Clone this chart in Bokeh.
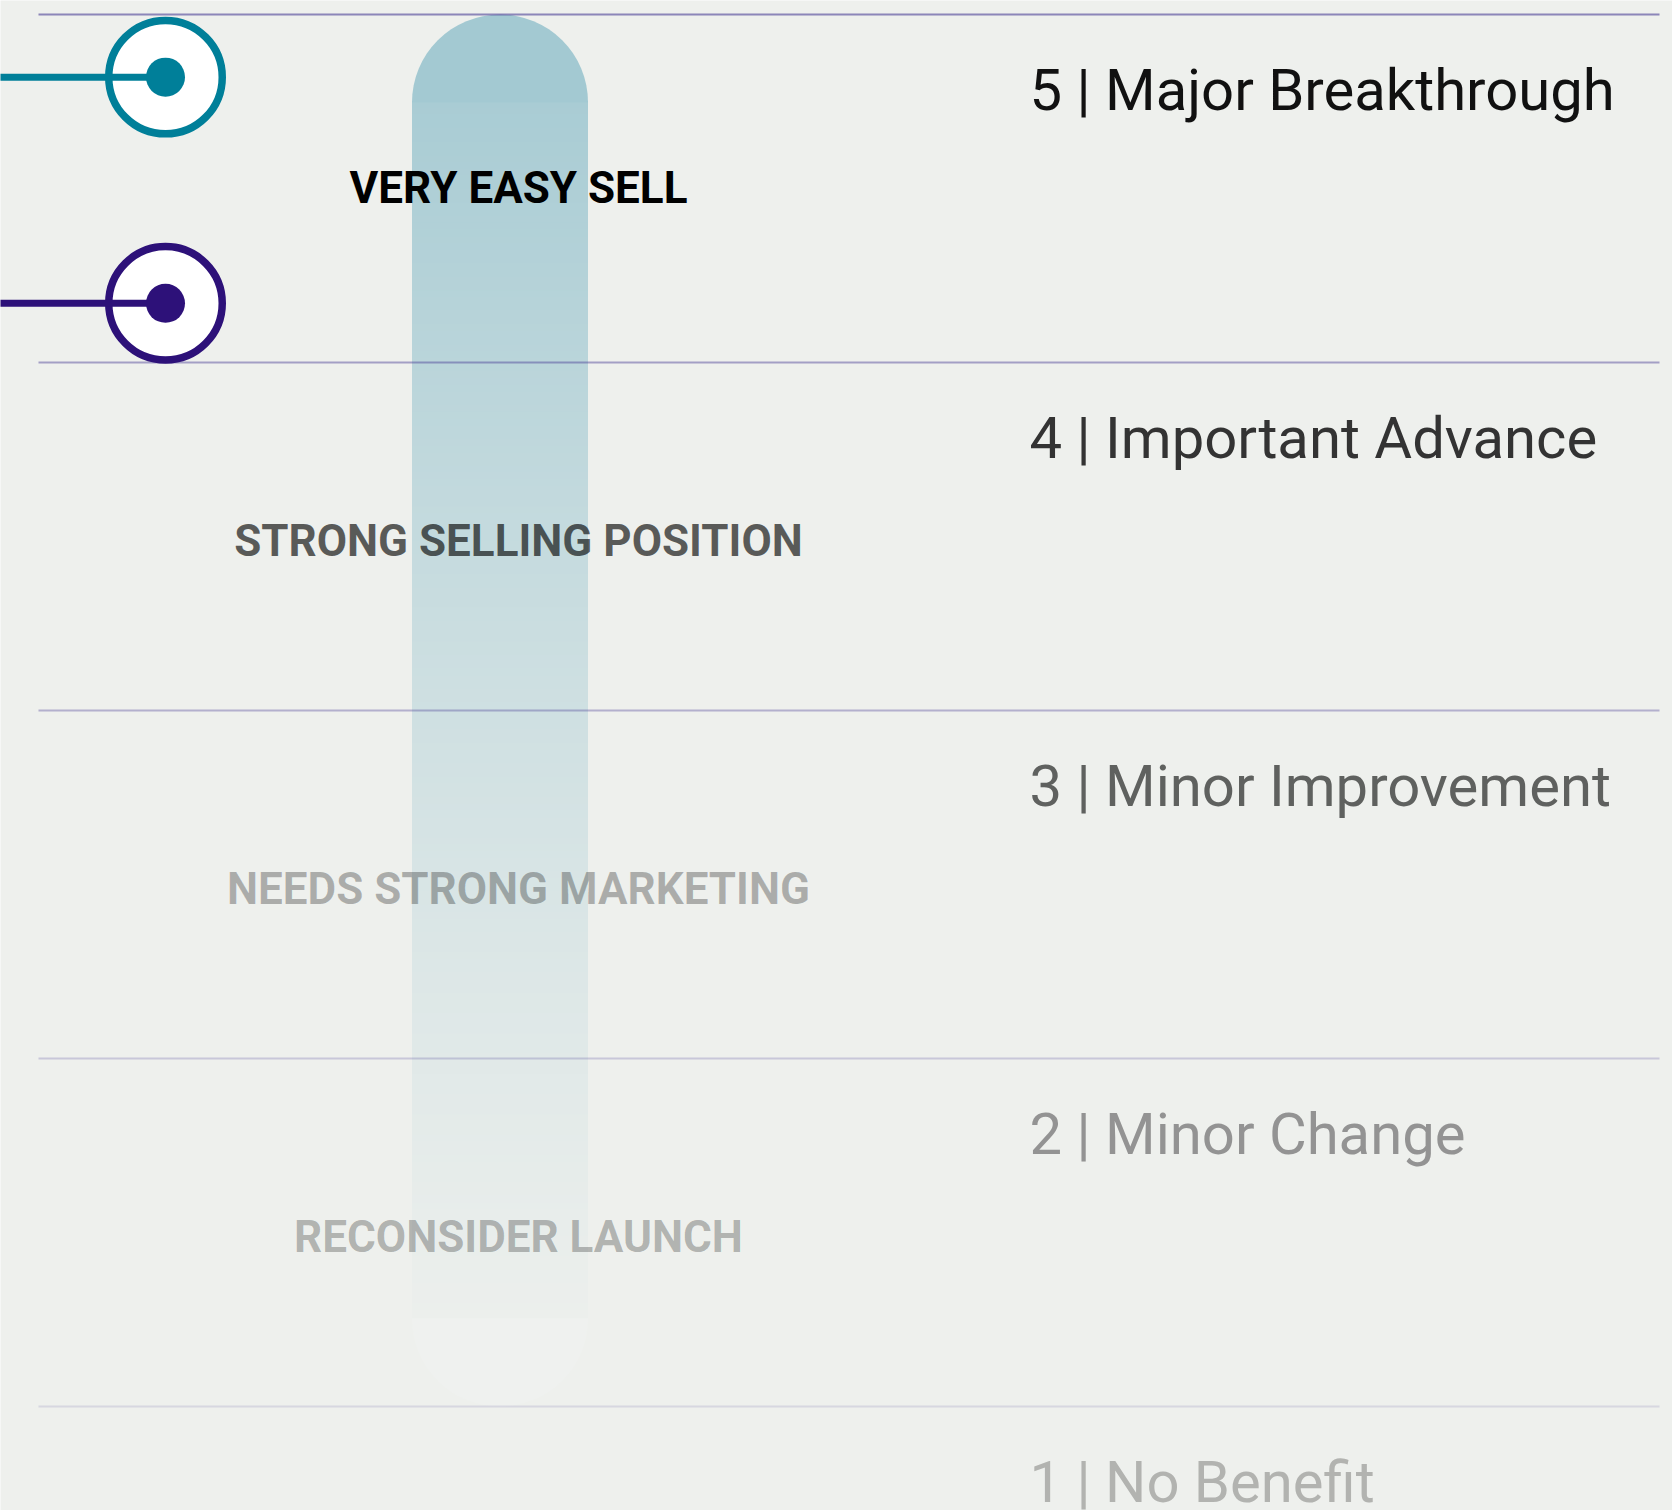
import numpy as np
from bokeh.plotting import figure
from bokeh.models import Range1d
from bokeh.core.properties import value
from bokeh.embed import file_html
from bokeh.resources import INLINE

# ---------------- data ----------------
levels = [5, 4, 3, 2, 1]
level_names = ["Major Breakthrough", "Important Advance", "Minor Improvement",
               "Minor Change", "No Benefit"]
band_centers = [4.5, 3.5, 2.5, 1.5]
band_labels = ["VERY EASY SELL", "STRONG SELLING POSITION",
               "NEEDS STRONG MARKETING", "RECONSIDER LAUNCH"]
product_scores = [4.82, 4.17]
scale_min, scale_max = 1, 5

# ---------------- styles ----------------
BG = "#eef0ed"
product_colors = ["#007f99", "#2d1179"]
level_text_colors = ["#111111", "#333333", "#5f615f", "#939393", "#b2b3b0"]
band_text_alpha = [1.0, 0.63, 0.28, 0.27]
band_text_offsets = [-1, 4, 4, 4]
line_alphas = [0.6, 0.46, 0.36, 0.23, 0.14]
BAR_RGB = np.array([163, 201, 210])
BG_RGB = np.array([238, 240, 237])

W, H = 1672, 1510
PX_PER_UNIT = 348.0
TOP_PAD = 14.0
y_end = scale_max + TOP_PAD / PX_PER_UNIT
y_start = y_end - H / PX_PER_UNIT

LINE_X0, LINE_X1 = 38, 1659
BAR_X, BAR_R = 499.5, 88
CIRCLE_X = 165
LABEL_X = 518
RIGHT_X = 1029

p = figure(width=W, height=H, x_range=Range1d(0, W), y_range=Range1d(y_start, y_end),
           output_backend="svg", toolbar_location=None, min_border=0,
           x_axis_type=None, y_axis_type=None,
           background_fill_color=BG, border_fill_color=BG, outline_line_color=None)
p.grid.visible = False

# ---------------- gradient capsule ----------------
r_u = BAR_R / PX_PER_UNIT
body_top = scale_max - r_u
body_bot = scale_min + r_u
n = 180
edges = np.linspace(body_top, body_bot, n + 1)
tops = edges[:-1] + 0.004
bots = edges[1:]
mids = (edges[:-1] + edges[1:]) / 2
t = (scale_max - mids) / (scale_max - scale_min)
alpha = np.clip(1 - t, 0, 1) ** 1.25


def hexc(rgb):
    rgb = np.clip(np.round(rgb), 0, 255).astype(int)
    return "#%02x%02x%02x" % tuple(rgb)


cols = [hexc(BAR_RGB * a + BG_RGB * (1 - a)) for a in alpha]
p.quad(left=BAR_X - BAR_R, right=BAR_X + BAR_R, top=tops, bottom=bots,
       fill_color=cols, line_color=None)
p.wedge(x=BAR_X, y=body_top, radius=BAR_R, radius_units="screen",
        start_angle=0, end_angle=np.pi, fill_color=hexc(BAR_RGB), line_color=None)
p.wedge(x=BAR_X, y=body_bot, radius=BAR_R, radius_units="screen",
        start_angle=np.pi, end_angle=2 * np.pi, fill_color="#eff1ef", line_color=None)

# ---------------- level lines ----------------
p.segment(x0=[LINE_X0] * len(levels), x1=[LINE_X1] * len(levels), y0=levels, y1=levels,
          line_color="#4b3f96", line_alpha=line_alphas, line_width=2)

# ---------------- band labels ----------------
p.text(x=[LABEL_X] * len(band_centers), y=band_centers, text=band_labels,
       text_font=value("Roboto"), text_font_style="bold", text_font_size="44px",
       text_color="#000000", text_alpha=band_text_alpha,
       text_align="center", text_baseline="alphabetic", y_offset=band_text_offsets)

# ---------------- level labels ----------------
p.text(x=[RIGHT_X] * len(levels), y=levels,
       text=[f"{l} | {nme}" for l, nme in zip(levels, level_names)],
       text_font=value("Roboto"), text_font_size="58px",
       text_color=level_text_colors, text_align="left",
       text_baseline="alphabetic", y_offset=75)

# ---------------- product markers ----------------
for score, col in zip(product_scores, product_colors):
    p.scatter(x=[CIRCLE_X], y=[score], size=113.5, marker="circle",
              fill_color="white", line_color=col, line_width=7.5)
    p.segment(x0=[-10], x1=[CIRCLE_X], y0=[score], y1=[score],
              line_color=col, line_width=7)
    p.scatter(x=[CIRCLE_X], y=[score], size=39, marker="circle",
              fill_color=col, line_color=None)

open("out.html", "w").write(file_html(p, INLINE))
